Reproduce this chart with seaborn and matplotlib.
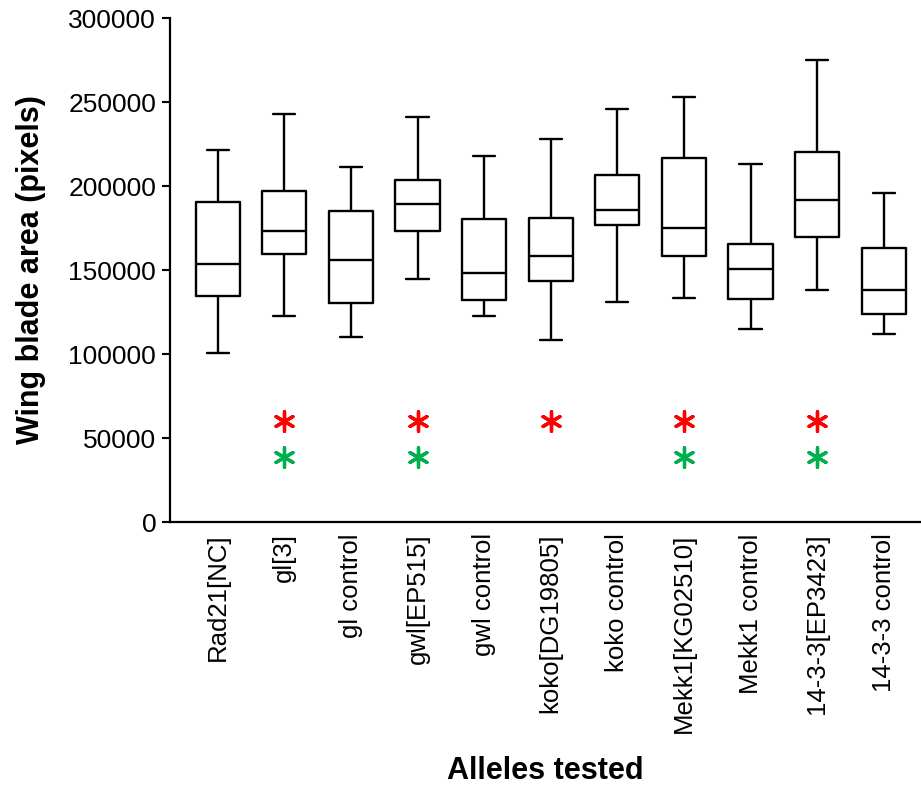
import numpy as np
import pandas as pd
import matplotlib
matplotlib.use("Agg")
import matplotlib.pyplot as plt
import seaborn as sns

# box summaries: whisker low, Q1, median, Q3, whisker high
alleles = ["Rad21[NC]", "gl[3]", "gl control", "gwl[EP515]", "gwl control",
           "koko[DG19805]", "koko control", "Mekk1[KG02510]", "Mekk1 control",
           "14-3-3[EP3423]", "14-3-3 control"]
whisker_low = [100800, 122400, 110100, 144600, 122400, 108300, 131000, 133300, 115100, 138100, 111900]
q1 = [134700, 159500, 130400, 173400, 132100, 143600, 176600, 158200, 132600, 169800, 123600]
median = [153800, 173400, 156100, 189300, 148400, 158300, 185900, 174800, 150600, 191500, 138100]
q3 = [190300, 197000, 185100, 203800, 180400, 181100, 206700, 216800, 165300, 220200, 163300]
whisker_high = [221400, 243000, 211100, 241100, 217700, 228200, 246000, 253000, 213300, 275000, 195800]

# significance markers
red_sig = ["gl[3]", "gwl[EP515]", "koko[DG19805]", "Mekk1[KG02510]", "14-3-3[EP3423]"]
red_y = 60000
green_sig = ["gl[3]", "gwl[EP515]", "Mekk1[KG02510]", "14-3-3[EP3423]"]
green_y = 39000

# five values per group give exactly these quartiles with whiskers at min/max
rows = []
for i, a in enumerate(alleles):
    for v in [whisker_low[i], q1[i], median[i], q3[i], whisker_high[i]]:
        rows.append({"allele": a, "area": v})
df = pd.DataFrame(rows)

red_df = pd.DataFrame({"allele": red_sig, "y": [red_y] * len(red_sig)})
green_df = pd.DataFrame({"allele": green_sig, "y": [green_y] * len(green_sig)})

sns.set_style("ticks")
plt.rcParams["font.family"] = ["Liberation Sans", "DejaVu Sans"]
plt.rcParams["text.color"] = "black"
plt.rcParams["axes.labelcolor"] = "black"
plt.rcParams["xtick.color"] = "black"
plt.rcParams["ytick.color"] = "black"

fig = plt.figure(figsize=(9.21, 7.85), dpi=100)
ax = fig.add_axes([0.1846, 0.335, 0.8154, 0.642])

sns.boxplot(data=df, x="allele", y="area", order=alleles, whis=(0, 100),
            width=0.665, fill=False, color="black", linewidth=1.7, ax=ax)
sns.stripplot(data=red_df, x="allele", y="y", order=alleles, jitter=False,
              color="#ff0000", marker=(6, 2, 0), size=14, linewidth=2.4, ax=ax)
sns.stripplot(data=green_df, x="allele", y="y", order=alleles, jitter=False,
              color="#00b050", marker=(6, 2, 0), size=14, linewidth=2.4, ax=ax)

ax.set_ylim(0, 300000)
ax.set_xlim(-0.716, 10.56)
ax.set_yticks(np.arange(0, 300001, 50000))
ax.set_yticklabels([str(v) for v in range(0, 300001, 50000)])
sns.despine(ax=ax)
for s in ["left", "bottom"]:
    ax.spines[s].set_linewidth(1.6)
    ax.spines[s].set_color("black")

ax.tick_params(axis="y", length=6, width=1.5, pad=4, labelsize=19, colors="black")
ax.tick_params(axis="x", length=0, pad=8, labelsize=18.5, labelrotation=90, colors="black")
for t in ax.get_xticklabels():
    t.set_va("top")

ax.set_xlabel("Alleles tested", fontsize=22, fontweight="bold", labelpad=17, color="black")
ax.set_ylabel("Wing blade area (pixels)", fontsize=22, fontweight="bold", labelpad=16, color="black")

fig.savefig("out.png", dpi=100)
